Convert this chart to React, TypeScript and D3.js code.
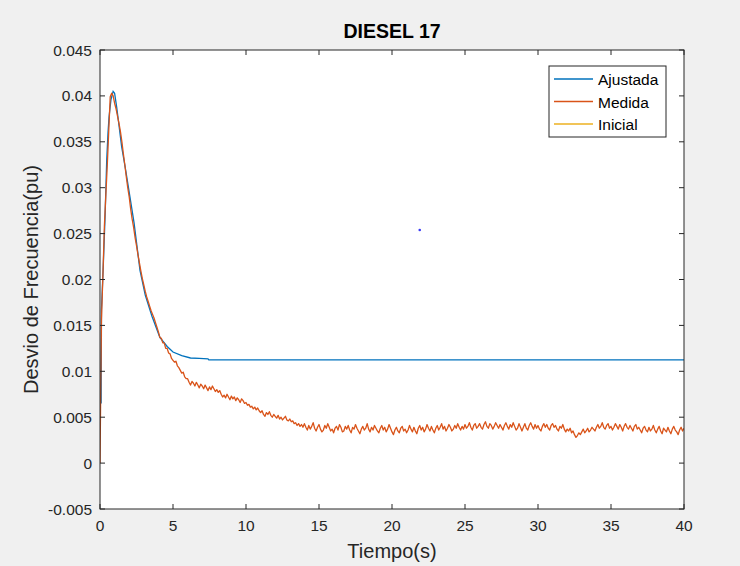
import React from "react";
import * as d3 from "d3";

// ---- Data ----
const xTicks = [0, 5, 10, 15, 20, 25, 30, 35, 40];
const yTicks = [-0.005, 0, 0.005, 0.01, 0.015, 0.02, 0.025, 0.03, 0.035, 0.04, 0.045];
const yTickLabels = ["-0.005", "0", "0.005", "0.01", "0.015", "0.02", "0.025", "0.03", "0.035", "0.04", "0.045"];

const ajustadaT = [0.08, 0.1, 0.2, 0.34, 0.46, 0.55, 0.62, 0.75, 0.9, 1.0, 1.14, 1.3, 1.48, 1.76, 2.05, 2.33, 2.74, 3.1, 3.56, 4.1, 4.6, 5.0, 5.6, 6.2, 6.8, 7.4, 7.45, 40];
const ajustadaV = [0.0065, 0.0167, 0.0205, 0.0265, 0.033, 0.036, 0.0377, 0.0396, 0.0405, 0.0403, 0.0388, 0.0368, 0.0345, 0.0319, 0.029, 0.0262, 0.021, 0.0183, 0.016, 0.0137, 0.0127, 0.0121, 0.0117, 0.01145, 0.0114, 0.01135, 0.01125, 0.01125];

// Medida sampled every 0.1 s, values in units of 1e-4 pu
const medidaStep = 0.1;
const medidaE4 = [
  0, 156, 205, 258, 292, 325, 362, 399, 403, 400,
  392, 386, 378, 370, 361, 350, 337, 325, 312, 300,
  290, 277, 266, 257, 246, 237, 227, 218, 209, 201,
  194, 187, 181, 176, 171, 166, 162, 158, 153, 148,
  143, 137, 136, 131, 131, 125, 125, 120, 119, 114,
  112, 110, 111, 106, 104, 101, 98, 99, 94, 92,
  92, 88, 85, 89, 87, 84, 88, 85, 82, 86,
  84, 81, 85, 82, 79, 83, 80, 84, 81, 78,
  80, 77, 79, 75, 72, 74, 71, 75, 72, 69,
  73, 70, 72, 68, 71, 69, 66, 70, 68, 65,
  66, 63, 64, 61, 62, 59, 61, 58, 60, 57,
  55, 57, 53, 51, 55, 53, 56, 52, 50, 53,
  51, 49, 52, 48, 50, 47, 49, 51, 47, 46,
  48, 45, 46, 43, 44, 41, 43, 40, 42, 39,
  43, 39, 36, 41, 37, 40, 44, 38, 35, 39,
  42, 37, 34, 36, 41, 38, 43, 39, 35, 37,
  33, 38, 40, 36, 42, 39, 34, 35, 40, 37,
  41, 36, 33, 39, 37, 42, 38, 35, 32, 37,
  40, 36, 38, 43, 37, 34, 39, 36, 41, 38,
  35, 33, 38, 41, 36, 39, 34, 37, 42, 38,
  34, 31, 36, 39, 35, 33, 38, 40, 35, 37,
  33, 36, 41, 37, 34, 39, 35, 32, 38, 41,
  36, 39, 34, 37, 42, 38, 35, 40, 36, 33,
  38, 41, 36, 39, 43, 37, 40, 35, 38, 42,
  39, 35, 37, 41, 38, 43, 39, 36, 40, 37,
  42, 38, 40, 44, 39, 36, 41, 43, 38, 40,
  43, 39, 37, 42, 45, 40, 38, 43, 41, 37,
  40, 44, 41, 38, 42, 39, 36, 41, 44, 40,
  37, 42, 39, 44, 40, 36, 38, 43, 39, 35,
  39, 43, 38, 36, 41, 44, 40, 37, 42, 38,
  41, 37, 35, 40, 43, 39, 42, 38, 36, 41,
  43, 39, 41, 37, 35, 40, 38, 42, 37, 34,
  37, 35, 38, 33, 35, 31, 28, 30, 33, 31,
  34, 37, 33, 35, 38, 34, 36, 39, 37, 35,
  39, 42, 38, 40, 44, 39, 37, 41, 43, 38,
  40, 36, 39, 43, 40, 37, 42, 39, 35, 40,
  43, 39, 37, 41, 38, 35, 40, 42, 37, 39,
  36, 33, 38, 40, 36, 34, 39, 35, 37, 41,
  36, 33, 37, 40, 35, 32, 38, 36, 34, 39,
  35, 32, 37, 40, 36, 34, 31, 36, 39, 35,
  38,
];

const strayT = [21.9];
const strayV = [0.0254];

const legendNames = ["Ajustada", "Medida", "Inicial"];
const legendColors = ["#0072BD", "#D95319", "#EDB120"];

const W = 740;
const H = 566;
const M = { left: 100, right: 684, top: 50, bottom: 509 };
const FONT = "'Liberation Sans', Arial, Helvetica, sans-serif";
const AX = "#262626";

export default function App() {
  const x = d3.scaleLinear().domain([0, 40]).range([M.left, M.right]);
  const y = d3.scaleLinear().domain([-0.005, 0.045]).range([M.bottom, M.top]);

  const line = d3
    .line<[number, number]>()
    .x((d) => x(d[0]))
    .y((d) => y(d[1]));

  const ajustada: [number, number][] = ajustadaT.map((t, i) => [t, ajustadaV[i]]);
  const medida: [number, number][] = medidaE4.map((v, i) => [i * medidaStep, v / 10000]);

  const tick = 5;
  const legX = 549;
  const legY = 66;
  const legW = 117;
  const legH = 71;

  return (
    <div style={{ position: "fixed", left: 0, top: 0, width: W, height: H }}>
      <svg width={W} height={H} style={{ display: "block", background: "#f0f0f0" }} fontFamily={FONT}>
        <rect x={0} y={0} width={W} height={H} fill="#f0f0f0" />
        <rect x={M.left} y={M.top} width={M.right - M.left} height={M.bottom - M.top} fill="#ffffff" />

        <defs>
          <clipPath id="plotclip">
            <rect x={M.left} y={M.top} width={M.right - M.left} height={M.bottom - M.top} />
          </clipPath>
        </defs>

        <g clipPath="url(#plotclip)">
          <path d={line(ajustada) || ""} fill="none" stroke={legendColors[0]} strokeWidth={1.3} />
          <path d={line(medida) || ""} fill="none" stroke={legendColors[1]} strokeWidth={1.3} strokeLinejoin="round" />
          {strayT.map((t, i) => (
            <circle key={i} cx={x(t)} cy={y(strayV[i])} r={1.3} fill="#3a3af5" />
          ))}
        </g>

        {/* axes box */}
        <rect x={M.left} y={M.top} width={M.right - M.left} height={M.bottom - M.top} fill="none" stroke={AX} strokeWidth={1} />

        {/* x ticks */}
        {xTicks.map((t) => (
          <g key={"x" + t}>
            <line x1={x(t)} x2={x(t)} y1={M.bottom} y2={M.bottom - tick} stroke={AX} />
            <line x1={x(t)} x2={x(t)} y1={M.top} y2={M.top + tick} stroke={AX} />
            <text x={x(t)} y={M.bottom + 22} textAnchor="middle" fontSize={15.5} fill={AX}>
              {t}
            </text>
          </g>
        ))}

        {/* y ticks */}
        {yTicks.map((v, i) => (
          <g key={"y" + i}>
            <line x1={M.left} x2={M.left + tick} y1={y(v)} y2={y(v)} stroke={AX} />
            <line x1={M.right} x2={M.right - tick} y1={y(v)} y2={y(v)} stroke={AX} />
            <text x={M.left - 8} y={y(v) + 5.5} textAnchor="end" fontSize={15.5} fill={AX}>
              {yTickLabels[i]}
            </text>
          </g>
        ))}

        {/* labels */}
        <text x={(M.left + M.right) / 2} y={38} textAnchor="middle" fontSize={19.5} fontWeight="bold" fill="#000">
          DIESEL 17
        </text>
        <text x={(M.left + M.right) / 2} y={558} textAnchor="middle" fontSize={20} fill={AX}>
          Tiempo(s)
        </text>
        <text
          transform={`translate(38, ${(M.top + M.bottom) / 2}) rotate(-90)`}
          textAnchor="middle"
          fontSize={20}
          fill={AX}
        >
          Desvio de Frecuencia(pu)
        </text>

        {/* legend */}
        <rect x={legX} y={legY} width={legW} height={legH} fill="#ffffff" stroke={AX} strokeWidth={1} />
        {legendNames.map((n, i) => (
          <g key={n}>
            <line
              x1={legX + 5}
              x2={legX + 44}
              y1={legY + 13 + i * 22.5}
              y2={legY + 13 + i * 22.5}
              stroke={legendColors[i]}
              strokeWidth={1.3}
            />
            <text x={legX + 49} y={legY + 19 + i * 22.5} fontSize={15.5} fill="#000">
              {n}
            </text>
          </g>
        ))}
      </svg>
    </div>
  );
}
